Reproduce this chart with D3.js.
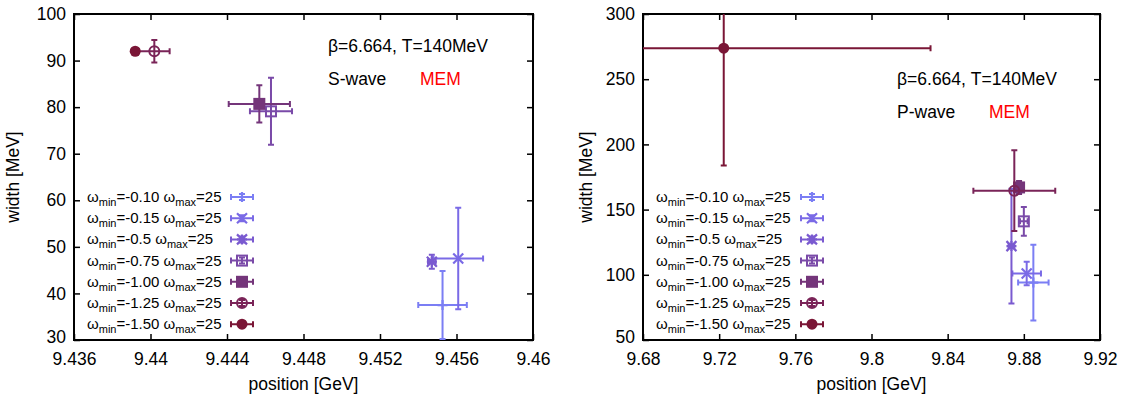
<!DOCTYPE html>
<html>
<head>
<meta charset="utf-8">
<script src="https://cdn.jsdelivr.net/npm/d3@7"></script>
<style>
  body { margin: 0; background: #fff; }
  text { font-family: "Liberation Sans", Arial, sans-serif; fill: #000; }
</style>
</head>
<body>
<svg id="chart" width="1128" height="398"></svg>
<script>
// series: omega_min values (omega_max = 25 for all)
var wMin = ['-0.10', '-0.15', '-0.5', '-0.75', '-1.00', '-1.25', '-1.50'];
var colors = ['#7b7ef4', '#7a6ae6', '#7a5ad0', '#7a4aa8', '#74357a', '#7a2458', '#7a1636'];
var markers = ['plus', 'cross', 'star', 'squareOpen', 'square', 'circleOpen', 'circle'];

// S-wave
var sPos    = [9.45527, 9.45609, 9.45471, 9.44630, 9.44569, 9.44020, 9.43920];
var sPosErr = [0.00127, 0.00130, 0.00020, 0.00110, 0.00160, 0.00080, 0.00015];
var sWid    = [37.5, 47.5, 46.8, 79.1, 80.7, 92.0, 92.0];
var sWidErr = [7.3, 10.9, 1.5, 7.2, 4.0, 2.4, 0.3];
var sXTicks = [9.436, 9.44, 9.444, 9.448, 9.452, 9.456, 9.46];
var sYTicks = [30, 40, 50, 60, 70, 80, 90, 100];

// P-wave
var pPos    = [9.885, 9.8815, 9.8735, 9.8800, 9.8775, 9.8750, 9.7224];
var pPosErr = [0.0080, 0.0075, 0.0015, 0.0020, 0.0020, 0.0215, 0.1086];
var pWid    = [94, 101, 122, 141, 167, 164.5, 273.8];
var pWidErr = [29, 9, 44, 11, 5, 31, 90];
var pXTicks = [9.68, 9.72, 9.76, 9.8, 9.84, 9.88, 9.92];
var pYTicks = [50, 100, 150, 200, 250, 300];

var svg = d3.select('#chart');

function drawMarker(g, type, x, y, color) {
    var r = 5;
    if (type === 'plus') {
        g.append('path').attr('d', 'M' + (x - r) + ',' + y + 'H' + (x + r) + 'M' + x + ',' + (y - r) + 'V' + (y + r))
            .attr('stroke', color).attr('stroke-width', 2.2).attr('fill', 'none');
    } else if (type === 'cross') {
        g.append('path').attr('d', 'M' + (x - r) + ',' + (y - r) + 'L' + (x + r) + ',' + (y + r) + 'M' + (x - r) + ',' + (y + r) + 'L' + (x + r) + ',' + (y - r))
            .attr('stroke', color).attr('stroke-width', 2.2).attr('fill', 'none');
    } else if (type === 'star') {
        g.append('path').attr('d', 'M' + (x - r) + ',' + y + 'H' + (x + r) + 'M' + x + ',' + (y - r) + 'V' + (y + r) +
                'M' + (x - r) + ',' + (y - r) + 'L' + (x + r) + ',' + (y + r) + 'M' + (x - r) + ',' + (y + r) + 'L' + (x + r) + ',' + (y - r))
            .attr('stroke', color).attr('stroke-width', 2.2).attr('fill', 'none');
    } else if (type === 'squareOpen') {
        g.append('rect').attr('x', x - r).attr('y', y - r).attr('width', 2 * r).attr('height', 2 * r)
            .attr('stroke', color).attr('stroke-width', 2).attr('fill', 'none');
    } else if (type === 'square') {
        g.append('rect').attr('x', x - r - 1).attr('y', y - r - 1).attr('width', 2 * r + 2).attr('height', 2 * r + 2)
            .attr('fill', color);
    } else if (type === 'circleOpen') {
        g.append('circle').attr('cx', x).attr('cy', y).attr('r', r)
            .attr('stroke', color).attr('stroke-width', 2).attr('fill', 'none');
    } else if (type === 'circle') {
        g.append('circle').attr('cx', x).attr('cy', y).attr('r', r + 0.5).attr('fill', color);
    }
}

function errorBar(g, x, y, x0, x1, y0, y1, color) {
    var c = 3;
    var d = 'M' + x0 + ',' + y + 'H' + x1 +
            'M' + x + ',' + y0 + 'V' + y1 +
            'M' + x0 + ',' + (y - c) + 'V' + (y + c) +
            'M' + x1 + ',' + (y - c) + 'V' + (y + c) +
            'M' + (x - c) + ',' + y0 + 'H' + (x + c) +
            'M' + (x - c) + ',' + y1 + 'H' + (x + c);
    g.append('path').attr('d', d).attr('stroke', color).attr('stroke-width', 2).attr('fill', 'none');
}

function drawPanel(opt) {
    var left = opt.left, right = opt.right, top = 14, bottom = 340;
    var x = d3.scaleLinear().domain(opt.xDomain).range([left, right]);
    var y = d3.scaleLinear().domain(opt.yDomain).range([bottom, top]);
    var g = svg.append('g');

    var clipId = 'clip' + opt.id;
    svg.append('clipPath').attr('id', clipId).append('rect')
        .attr('x', left).attr('y', top).attr('width', right - left).attr('height', bottom - top);

    // axes with inward ticks, mirrored on opposite side
    var fmtX = function(d) { return d3.format('.3~f')(d); };
    var bx = g.append('g').attr('transform', 'translate(0,' + bottom + ')')
        .call(d3.axisBottom(x).tickValues(opt.xTicks).tickSize(-6).tickPadding(13).tickFormat(fmtX));
    var tx = g.append('g').attr('transform', 'translate(0,' + top + ')')
        .call(d3.axisTop(x).tickValues(opt.xTicks).tickSize(-6).tickFormat(''));
    var ly = g.append('g').attr('transform', 'translate(' + left + ',0)')
        .call(d3.axisLeft(y).tickValues(opt.yTicks).tickSize(-6).tickPadding(8));
    var ry = g.append('g').attr('transform', 'translate(' + right + ',0)')
        .call(d3.axisRight(y).tickValues(opt.yTicks).tickSize(-6).tickFormat(''));
    [bx, tx, ly, ry].forEach(function(a) {
        a.select('.domain').remove();
        a.selectAll('line').attr('stroke', '#000').attr('stroke-width', 1.5);
        a.selectAll('text').attr('font-size', 17.5).attr('font-family', '"Liberation Sans", Arial, sans-serif').attr('fill', '#000');
    });
    // lift the lowest y label a little so it clears the first x label
    ly.selectAll('.tick').filter(function(d) { return d === opt.yDomain[0]; })
        .select('text').attr('dy', '0.15em');
    g.append('rect').attr('x', left).attr('y', top).attr('width', right - left).attr('height', bottom - top)
        .attr('fill', 'none').attr('stroke', '#000').attr('stroke-width', 2);

    g.append('text').attr('x', (left + right) / 2).attr('y', 390).attr('text-anchor', 'middle')
        .attr('font-size', 17.5).text('position [GeV]');
    g.append('text').attr('transform', 'translate(' + opt.yTitleX + ',' + ((top + bottom) / 2) + ') rotate(-90)')
        .attr('text-anchor', 'middle').attr('font-size', 17.5).text('width [MeV]');

    // annotations
    g.append('text').attr('x', opt.noteX).attr('y', opt.noteY).attr('font-size', 17.5).text('\u03b2=6.664, T=140MeV');
    g.append('text').attr('x', opt.noteX).attr('y', opt.noteY + 33).attr('font-size', 17.5).text(opt.wave);
    g.append('text').attr('x', opt.noteX + 92).attr('y', opt.noteY + 33).attr('font-size', 17.5)
        .style('fill', '#ff0000').text('MEM');

    // legend
    for (var i = 0; i < wMin.length; i++) {
        var ry0 = 197 + i * 21.2;
        var t = g.append('text').attr('x', left + 13).attr('y', ry0 + 5).attr('font-size', 15);
        t.append('tspan').text('\u03c9');
        t.append('tspan').attr('font-size', 11).attr('dy', 4).text('min');
        t.append('tspan').attr('dy', -4).text('=' + wMin[i] + ' \u03c9');
        t.append('tspan').attr('font-size', 11).attr('dy', 4).text('max');
        t.append('tspan').attr('dy', -4).text('=25');
        var kx = left + opt.keyOffset;
        var kg = g.append('g');
        errorBar(kg, kx, ry0, kx - 11, kx + 11, ry0 - 3, ry0 + 3, colors[i]);
        drawMarker(kg, markers[i], kx, ry0, colors[i]);
    }

    // data points with error bars
    var dg = g.append('g').attr('clip-path', 'url(#' + clipId + ')');
    for (var j = 0; j < opt.pos.length; j++) {
        var px = x(opt.pos[j]), py = y(opt.wid[j]);
        errorBar(dg, px, py, x(opt.pos[j] - opt.posErr[j]), x(opt.pos[j] + opt.posErr[j]),
            y(opt.wid[j] + opt.widErr[j]), y(opt.wid[j] - opt.widErr[j]), colors[j]);
        drawMarker(dg, markers[j], px, py, colors[j]);
    }
}

drawPanel({
    id: 'S', left: 74, right: 533, xDomain: [9.436, 9.46], yDomain: [30, 100],
    xTicks: sXTicks, yTicks: sYTicks, yTitleX: 19,
    pos: sPos, posErr: sPosErr, wid: sWid, widErr: sWidErr,
    noteX: 328, noteY: 52, wave: 'S-wave', keyOffset: 168
});

drawPanel({
    id: 'P', left: 643, right: 1100, xDomain: [9.68, 9.92], yDomain: [50, 300],
    xTicks: pXTicks, yTicks: pYTicks, yTitleX: 592,
    pos: pPos, posErr: pPosErr, wid: pWid, widErr: pWidErr,
    noteX: 897, noteY: 85, wave: 'P-wave', keyOffset: 169
});
</script>
</body>
</html>
